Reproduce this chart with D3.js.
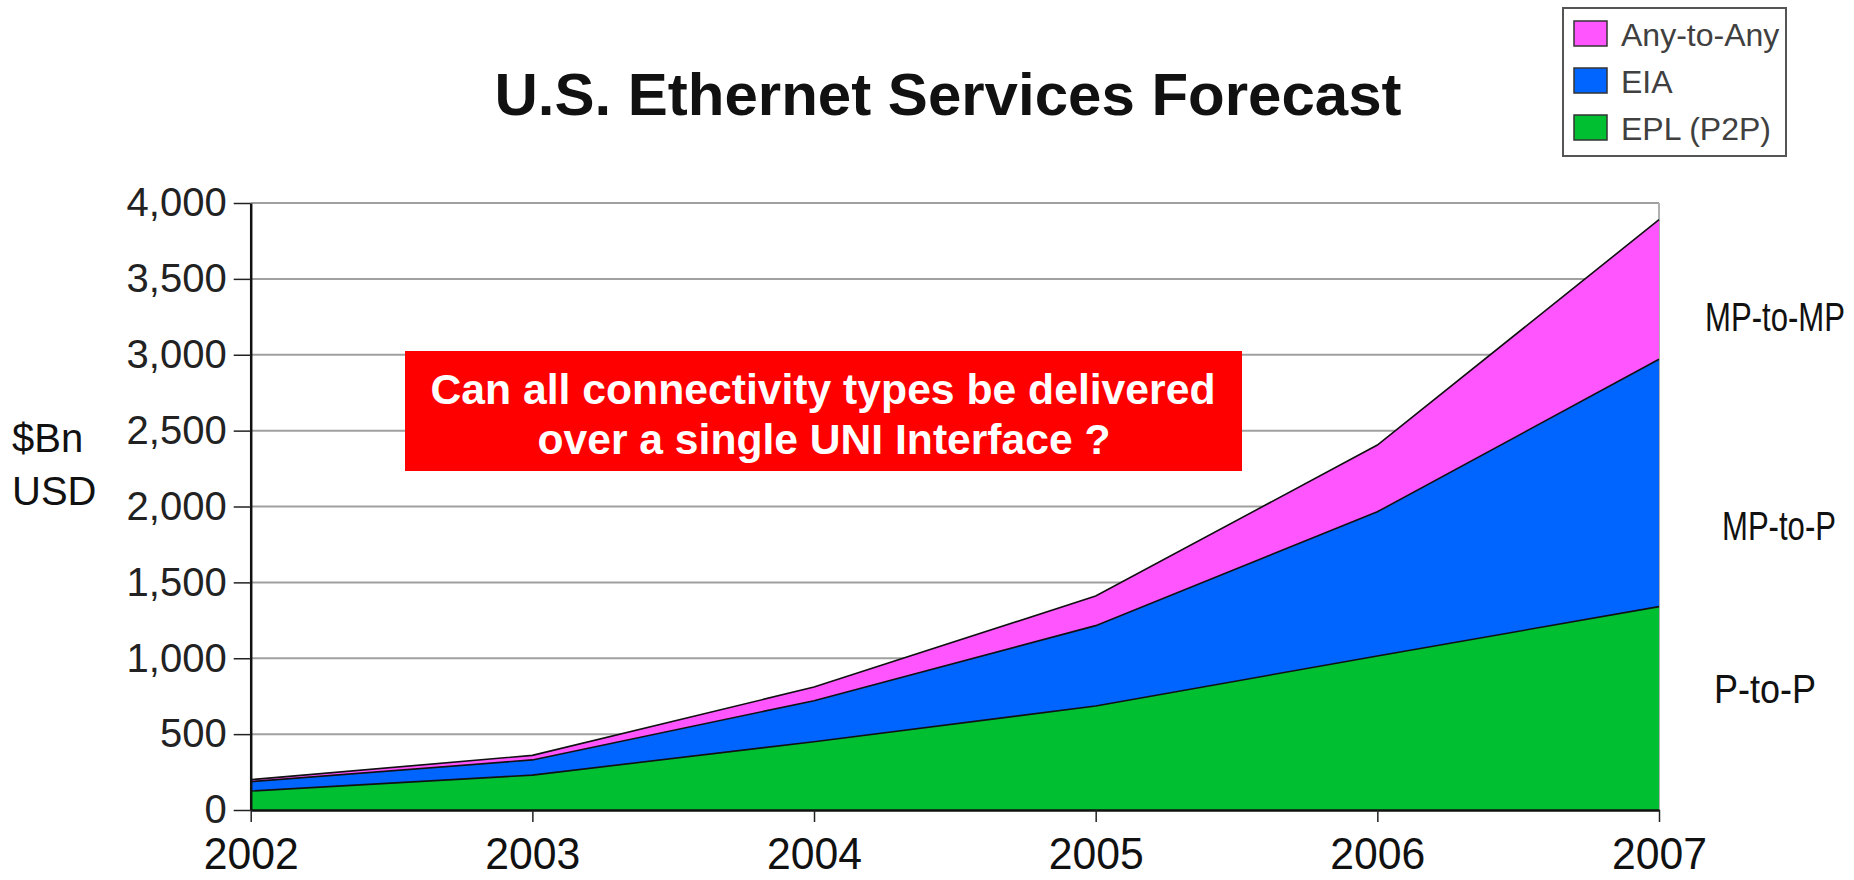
<!DOCTYPE html>
<html>
<head>
<meta charset="utf-8">
<script src="https://cdn.jsdelivr.net/npm/d3@7"></script>
<style>
  html, body { margin: 0; padding: 0; background: #fff; }
  svg { display: block; }
</style>
</head>
<body>
<svg id="chart" width="1854" height="880"></svg>
<script>
// Forecast revenue by service type ($Bn USD)
const years = [2002, 2003, 2004, 2005, 2006, 2007];
const eplValues = [125, 230, 450, 685, 1015, 1340];
const eiaValues = [62, 100, 270, 530, 950, 1630];
const anyToAnyValues = [13, 30, 90, 195, 440, 920];
const yTickValues = [0, 500, 1000, 1500, 2000, 2500, 3000, 3500, 4000];
const seriesKeys = ["EPL (P2P)", "EIA", "Any-to-Any"];
const seriesColors = ["#00c032", "#0064ff", "#ff55ff"];
const legendOrder = ["Any-to-Any", "EIA", "EPL (P2P)"];
const sideLabels = [
  { text: "MP-to-MP", x: 1705, y: 331, w: 140 },
  { text: "MP-to-P", x: 1722, y: 540, w: 114 },
  { text: "P-to-P", x: 1714, y: 703, w: 102 }
];

const rows = years.map((yr, i) => ({
  year: yr,
  "EPL (P2P)": eplValues[i],
  "EIA": eiaValues[i],
  "Any-to-Any": anyToAnyValues[i]
}));

const svg = d3.select("#chart");
const FONT = "'Liberation Sans', Arial, Helvetica, sans-serif";

const x = d3.scaleLinear().domain([2002, 2007]).range([250.7, 1659]);
const y = d3.scaleLinear().domain([0, 4000]).range([810, 203]);
const color = d3.scaleOrdinal().domain(seriesKeys).range(seriesColors);

// Title
svg.append("text")
  .attr("x", 948).attr("y", 115)
  .attr("text-anchor", "middle")
  .attr("font-family", FONT).attr("font-weight", "bold")
  .attr("font-size", 60).attr("fill", "#111")
  .text("U.S. Ethernet Services Forecast");

// Horizontal grid lines and plot frame
svg.append("g").selectAll("line")
  .data(yTickValues.filter(d => d > 0))
  .join("line")
  .attr("x1", x(2002)).attr("x2", x(2007))
  .attr("y1", d => y(d)).attr("y2", d => y(d))
  .attr("stroke", "#a0a0a0").attr("stroke-width", 2);
svg.append("line")
  .attr("x1", x(2007)).attr("x2", x(2007))
  .attr("y1", y(4000)).attr("y2", y(0))
  .attr("stroke", "#b0b0b0").attr("stroke-width", 2);

// Stacked areas
const stacked = d3.stack().keys(seriesKeys)(rows);
const area = d3.area()
  .x(d => x(d.data.year))
  .y0(d => y(d[0]))
  .y1(d => y(d[1]));
const topLine = d3.line()
  .x(d => x(d.data.year))
  .y(d => y(d[1]));

svg.append("g").selectAll("path")
  .data(stacked)
  .join("path")
  .attr("d", area)
  .attr("fill", d => color(d.key));
svg.append("g").selectAll("path")
  .data(stacked)
  .join("path")
  .attr("d", topLine)
  .attr("fill", "none")
  .attr("stroke", "#111")
  .attr("stroke-width", 1.6);

// Axes
const yAxis = svg.append("g")
  .attr("transform", `translate(${x(2002)},0)`)
  .call(d3.axisLeft(y).tickValues(yTickValues)
    .tickFormat(d3.format(",")).tickSize(17).tickPadding(7).tickSizeOuter(0));
yAxis.select(".domain").attr("stroke", "#111").attr("stroke-width", 2.5);
yAxis.selectAll(".tick line").attr("stroke", "#222").attr("stroke-width", 1.5);
yAxis.selectAll("text")
  .attr("font-family", FONT).attr("font-size", 40).attr("fill", "#222");

const xAxis = svg.append("g")
  .attr("transform", `translate(0,${y(0)})`)
  .call(d3.axisBottom(x).tickValues(years)
    .tickFormat(d3.format("d")).tickSize(12).tickSizeOuter(0));
xAxis.select(".domain").attr("stroke", "#111").attr("stroke-width", 2.5);
xAxis.selectAll(".tick line").attr("stroke", "#222").attr("stroke-width", 1.5);
xAxis.selectAll("text")
  .attr("y", 59).attr("dy", 0)
  .attr("font-family", FONT).attr("font-size", 45).attr("fill", "#111")
  .attr("textLength", 95).attr("lengthAdjust", "spacingAndGlyphs");

// Y axis unit label
const unit = svg.append("text")
  .attr("font-family", FONT).attr("font-size", 40).attr("fill", "#111");
unit.append("tspan").attr("x", 12).attr("y", 452).text("$Bn");
unit.append("tspan").attr("x", 12).attr("y", 505).text("USD");

// Callout box
const box = svg.append("g");
box.append("rect")
  .attr("x", 405).attr("y", 351).attr("width", 837).attr("height", 120)
  .attr("fill", "#ff0000");
box.append("text")
  .attr("x", 823).attr("y", 404).attr("text-anchor", "middle")
  .attr("font-family", FONT).attr("font-weight", "bold")
  .attr("font-size", 42).attr("fill", "#fff")
  .attr("textLength", 785).attr("lengthAdjust", "spacingAndGlyphs")
  .text("Can all connectivity types be delivered");
box.append("text")
  .attr("x", 824).attr("y", 454).attr("text-anchor", "middle")
  .attr("font-family", FONT).attr("font-weight", "bold")
  .attr("font-size", 42).attr("fill", "#fff")
  .attr("textLength", 573).attr("lengthAdjust", "spacingAndGlyphs")
  .text("over a single UNI Interface ?");

// Connectivity labels on the right, condensed horizontally to their widths
svg.append("g").selectAll("text")
  .data(sideLabels)
  .join("text")
  .attr("font-family", FONT).attr("font-size", 40).attr("fill", "#111")
  .text(d => d.text)
  .attr("transform", function (d) {
    const s = d.w / this.getComputedTextLength();
    return `translate(${d.x},${d.y}) scale(${s},1)`;
  });

// Legend
const legend = svg.append("g");
legend.append("rect")
  .attr("x", 1563).attr("y", 8).attr("width", 223).attr("height", 148)
  .attr("fill", "#fff").attr("stroke", "#555").attr("stroke-width", 2);
const item = legend.selectAll("g.item")
  .data(legendOrder)
  .join("g").attr("class", "item")
  .attr("transform", (d, i) => `translate(1574,${21 + i * 47})`);
item.append("rect")
  .attr("width", 33).attr("height", 25)
  .attr("fill", d => color(d))
  .attr("stroke", "#333").attr("stroke-width", 1.5);
item.append("text")
  .attr("x", 47).attr("y", 25)
  .attr("font-family", FONT).attr("font-size", 32).attr("fill", "#404040")
  .text(d => d);
</script>
</body>
</html>
